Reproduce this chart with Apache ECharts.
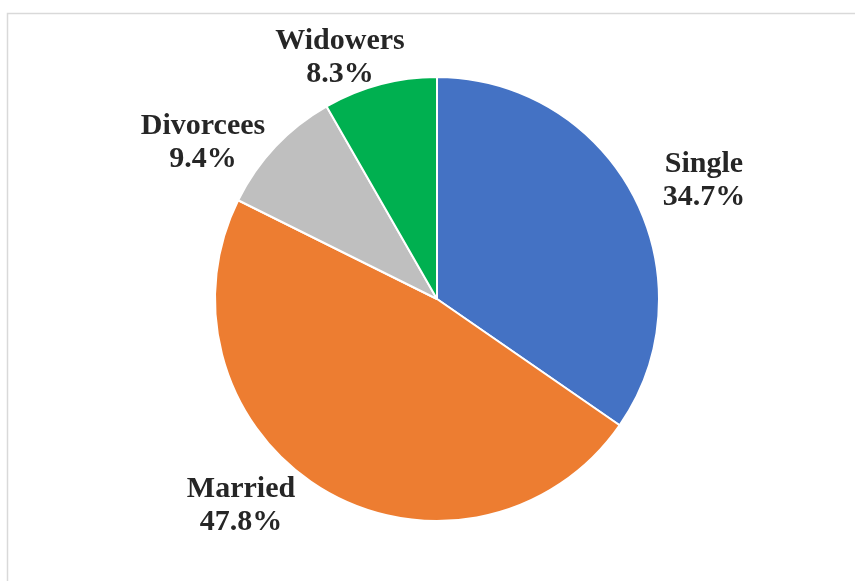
<!DOCTYPE html>
<html>
<head>
<meta charset="utf-8">
<script src="https://cdn.jsdelivr.net/npm/echarts@6/dist/echarts.min.js"></script>
<style>html,body{margin:0;padding:0;background:#fff;}#chart{width:855px;height:581px;}</style>
</head>
<body>
<div id="chart"></div>
<script>
var categories = ['Single', 'Married', 'Divorcees', 'Widowers'];
var values = [34.7, 47.8, 9.4, 8.3];
var colors = ['#4472C4', '#ED7D31', '#BFBFBF', '#00B050'];
var labelPos = [[704, 181], [241, 506], [203, 143], [340, 58]];

var chart = echarts.init(document.getElementById('chart'));
chart.setOption({
  animation: false,
  graphic: [{
    type: 'rect', shape: {x: 7.5, y: 13.5, width: 1000, height: 1000},
    style: {fill: 'none', stroke: '#d9d9d9', lineWidth: 1.5}, silent: true
  }],
  series: [{
    type: 'pie',
    center: [437, 299],
    radius: [0, 222],
    startAngle: 90,
    clockwise: true,
    data: categories.map(function (c, i) {
      return {name: c, value: values[i], itemStyle: {color: colors[i]}};
    }),
    itemStyle: {borderColor: '#fff', borderWidth: 2},
    label: {
      show: true,
      position: 'outside',
      formatter: function (p) { return p.name + '\n' + values[p.dataIndex].toFixed(1) + '%'; },
      fontFamily: 'Liberation Serif',
      fontWeight: 'bold',
      fontSize: 30,
      lineHeight: 33,
      color: '#262626',
      align: 'center'
    },
    labelLine: {show: false},
    labelLayout: function (params) {
      var p = labelPos[params.dataIndex];
      return {x: p[0], y: p[1], align: 'center', verticalAlign: 'middle'};
    }
  }]
});
</script>
</body>
</html>
